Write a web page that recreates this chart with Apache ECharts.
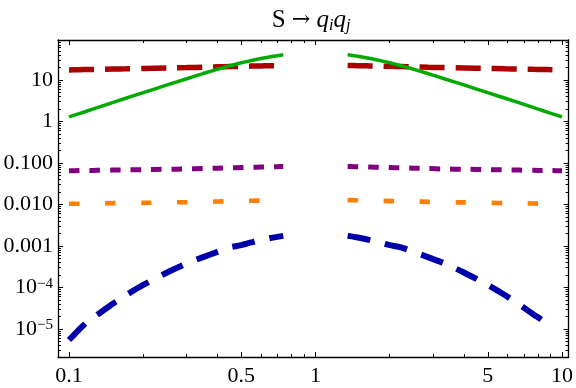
<!DOCTYPE html>
<html><head><meta charset="utf-8">
<script src="https://cdn.jsdelivr.net/npm/echarts@6/dist/echarts.min.js"></script>
<style>html,body{margin:0;padding:0;background:#fff}#c{width:576px;height:388px}</style>
</head><body><div id="c"></div>
<script>
// ---- data ----
const xLeft  = [0.1, 0.11, 0.12, 0.13, 0.15, 0.17, 0.2, 0.25, 0.3, 0.35, 0.4, 0.45, 0.5, 0.55, 0.6, 0.65, 0.7, 0.74];
const xRight = [1.35, 1.43, 1.54, 1.67, 1.82, 2.0, 2.22, 2.5, 2.86, 3.33, 4.0, 5.0, 5.88, 6.67, 7.69, 8.33, 9.09, 10];

const redLeft  = [17.5, 17.7, 17.9, 18.05, 18.4, 18.6, 19.0, 19.5, 19.9, 20.3, 20.8, 21.1, 21.3, 21.6, 21.8, 22.0, 22.2, 22.3];
const redRight = [22.3, 22.2, 22.0, 21.8, 21.6, 21.3, 21.1, 20.8, 20.3, 19.9, 19.5, 19.0, 18.6, 18.4, 18.05, 17.9, 17.7, 17.5];

const greenLeft  = [1.29, 1.55, 1.84, 2.15, 2.85, 3.63, 4.95, 7.6, 10.7, 14.3, 18.2, 22.1, 26.0, 29.6, 32.9, 35.8, 38.5, 40.5];
const greenRight = [40.5, 38.5, 35.8, 32.9, 29.6, 26.0, 22.1, 18.2, 14.3, 10.7, 7.6, 4.95, 3.63, 2.85, 2.15, 1.84, 1.55, 1.29];

const purpleLeft  = [0.065, 0.0655, 0.066, 0.0665, 0.0673, 0.068, 0.0692, 0.0705, 0.0716, 0.0734, 0.0750, 0.0764, 0.0776, 0.0787, 0.0797, 0.0806, 0.0815, 0.0822];
const purpleRight = [0.0822, 0.0815, 0.0806, 0.0797, 0.0787, 0.0776, 0.0764, 0.0750, 0.0734, 0.0716, 0.0705, 0.0692, 0.068, 0.0673, 0.0665, 0.066, 0.0655, 0.065];

const orangeLeft  = [0.0104, 0.01045, 0.0105, 0.01055, 0.0107, 0.0108, 0.0109, 0.0112, 0.0114, 0.0116, 0.0118, 0.0120, 0.0121, 0.0123, 0.0124, 0.0126, 0.0127, 0.0128];
const orangeRight = [0.0128, 0.0127, 0.0126, 0.0124, 0.0123, 0.0121, 0.0120, 0.0118, 0.0116, 0.0114, 0.0112, 0.0109, 0.0108, 0.0107, 0.01055, 0.0105, 0.01045, 0.0104];

const blueLeft  = [5.4e-6, 9.8e-6, 1.6e-5, 2.2e-5, 4.0e-5, 6.5e-5, 1.15e-4, 2.3e-4, 3.8e-4, 5.4e-4, 7.2e-4, 9.3e-4, 1.05e-3, 1.22e-3, 1.38e-3, 1.53e-3, 1.66e-3, 1.75e-3];
const blueRight = [1.75e-3, 1.66e-3, 1.53e-3, 1.38e-3, 1.22e-3, 1.05e-3, 9.3e-4, 7.2e-4, 5.4e-4, 3.8e-4, 2.3e-4, 1.15e-4, 6.5e-5, 4.0e-5, 2.2e-5, 1.6e-5, 9.8e-6];

const xMajorTicks = [0.1, 0.5, 1, 5, 10];
const xTickLabels = ['0.1', '0.5', '1', '5', '10'];
const xMinorTicks = [0.2, 0.3, 0.4, 0.6, 0.7, 0.8, 0.9, 2, 3, 4, 6, 7, 8, 9];
const yMajorTicks = [1e-5, 1e-4, 1e-3, 1e-2, 0.1, 1, 10];
const yTickLabels = ['10^−5', '10^−4', '0.001', '0.010', '0.100', '1', '10'];
const yMinorTicks = [];
[1e-6, 1e-5, 1e-4, 1e-3, 1e-2, 0.1, 1, 10].forEach(d => { for (let k = 2; k <= 9; k++) yMinorTicks.push(+(k * d).toPrecision(3)); });

// ---- chart ----
const X_MIN = 0.0902, X_MAX = 10.64, Y_MIN = 2.11e-6, Y_MAX = 92;
const FONT = 'Liberation Serif';
const black = '#000';

function findLabel(v, ticks, labels) {
  let best = 0, bd = Infinity;
  ticks.forEach((t, i) => { const d = Math.abs(Math.log10(v) - Math.log10(t)); if (d < bd) { bd = d; best = i; } });
  return labels[best];
}
function richLabel(s) {
  if (s.indexOf('^') >= 0) { const p = s.split('^'); return '{b|' + p[0] + '}{sup|' + p[1] + '}'; }
  return '{b|' + s + '}';
}

function xAx(pos, major) {
  return {
    type: 'log', position: pos, min: X_MIN, max: X_MAX, logBase: 10,
    axisLine: { show: major, lineStyle: { color: black, width: 1.3 } },
    axisTick: { show: true, inside: true, length: major ? 5 : 3, lineStyle: { color: black, width: 1 },
      customValues: major ? xMajorTicks : xMinorTicks },
    axisLabel: { show: major && pos === 'bottom', customValues: xMajorTicks, margin: 8,
      fontFamily: FONT, fontSize: 22, color: black,
      formatter: v => findLabel(v, xMajorTicks, xTickLabels) },
    splitLine: { show: false }, minorTick: { show: false }
  };
}
function yAx(pos, major) {
  return {
    type: 'log', position: pos, min: Y_MIN, max: Y_MAX, logBase: 10,
    axisLine: { show: major, lineStyle: { color: black, width: 1.3 } },
    axisTick: { show: true, inside: true, length: major ? 5 : 3, lineStyle: { color: black, width: 1 },
      customValues: major ? yMajorTicks : yMinorTicks },
    axisLabel: { show: major && pos === 'left', customValues: yMajorTicks, margin: 5,
      fontFamily: FONT, color: black,
      formatter: v => richLabel(findLabel(v, yMajorTicks, yTickLabels)),
      rich: {
        b: { fontFamily: FONT, fontSize: 22, color: black, lineHeight: 22 },
        sup: { fontFamily: FONT, fontSize: 15, color: black, lineHeight: 15, verticalAlign: 'top' }
      } },
    splitLine: { show: false }, minorTick: { show: false }
  };
}

function seg(xs, ys, color, width, dash) {
  return {
    type: 'line', xAxisIndex: 0, yAxisIndex: 0, showSymbol: false, symbol: 'none', smooth: 0.2,
    data: ys.map((y, i) => [xs[i], y]),
    lineStyle: { color: color, width: width, type: dash || 'solid', cap: 'butt' },
    animation: false, silent: true
  };
}

const series = [
  seg(xLeft, blueLeft, '#0000aa', 6, [23, 15]),
  seg(xRight, blueRight, '#0000aa', 6, [23, 15]),
  seg(xLeft, orangeLeft, '#ff8000', 4.7, [10.5, 25.5]),
  seg(xRight, orangeRight, '#ff8000', 4.7, [10.5, 25.5]),
  seg(xLeft, purpleLeft, '#800080', 5, [10.5, 10]),
  seg(xRight, purpleRight, '#800080', 5, [10.5, 10]),
  seg(xLeft, redLeft, '#aa0000', 5.5, [25, 11]),
  seg(xRight, redRight, '#aa0000', 5.5, [25, 11]),
  seg(xLeft, greenLeft, '#00aa00', 3.5),
  seg(xRight, greenRight, '#00aa00', 3.5)
];

const chart = echarts.init(document.getElementById('c'), null, { renderer: 'canvas' });
chart.setOption({
  animation: false,
  backgroundColor: '#fff',
  graphic: [{
    type: 'text', x: 311, y: 6, silent: true,
    style: {
      text: '{n|S }{a|→}{n| }{q|q}{s|i}{q|q}{s|j}',
      align: 'center', verticalAlign: 'top',
      font: '25px "Liberation Serif"', fill: black,
      rich: {
        n: { font: '25px "Liberation Serif"', fill: black, lineHeight: 28 },
        a: { font: '22px "DejaVu Serif"', fill: black, lineHeight: 28 },
        q: { font: 'italic 25px "Liberation Serif"', fill: black, lineHeight: 28 },
        s: { font: 'italic 16px "Liberation Serif"', fill: black, lineHeight: 16, verticalAlign: 'bottom' }
      }
    }
  }],
  grid: { left: 58, right: 7, top: 40, bottom: 31, containLabel: false },
  xAxis: [xAx('bottom', true), xAx('top', true), xAx('top', false), xAx('bottom', false)],
  yAxis: [yAx('left', true), yAx('right', true), yAx('right', false), yAx('left', false)],
  series: series
});
</script>
</body></html>
